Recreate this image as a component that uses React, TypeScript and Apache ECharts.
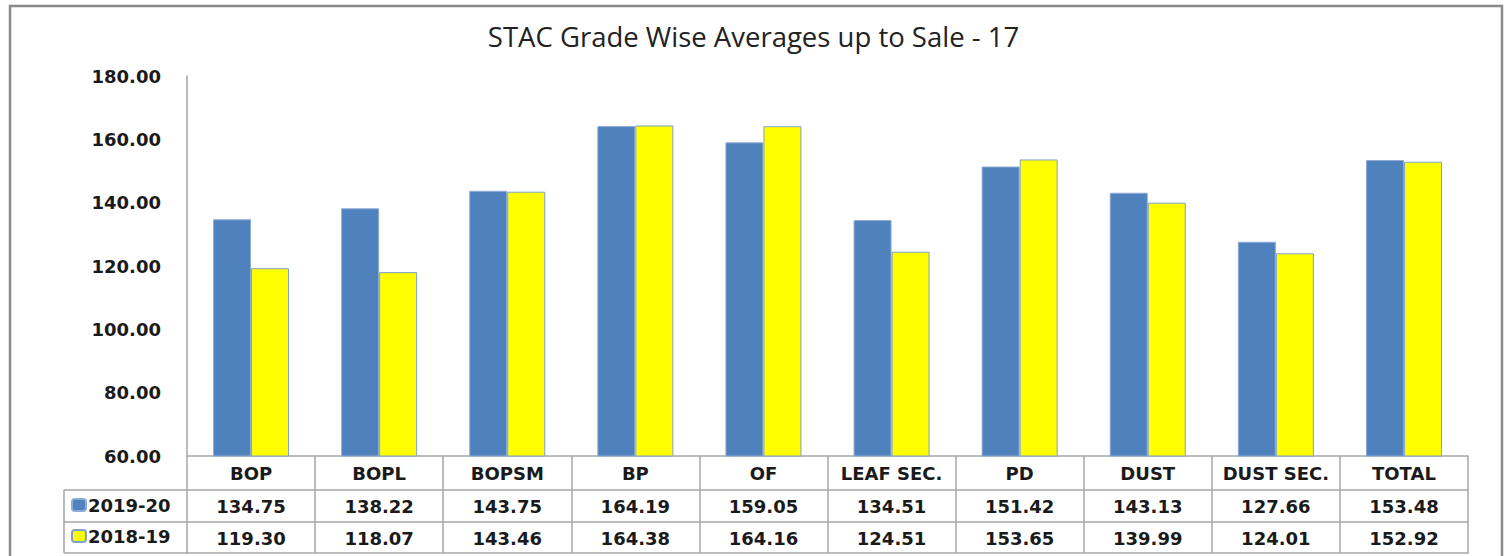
import React, { useEffect, useRef } from "react";
import * as echarts from "echarts";

const categories = ["BOP", "BOPL", "BOPSM", "BP", "OF", "LEAF SEC.", "PD", "DUST", "DUST SEC.", "TOTAL"];
const series2019 = [134.75, 138.22, 143.75, 164.19, 159.05, 134.51, 151.42, 143.13, 127.66, 153.48];
const series2018 = [119.3, 118.07, 143.46, 164.38, 164.16, 124.51, 153.65, 139.99, 124.01, 152.92];
const seriesNames = ["2019-20", "2018-19"];
const title = "STAC Grade Wise Averages up to Sale - 17";

const W = 1507;
const H = 556;
const gridLeft = 187;
const gridRight = 1468;
const gridTop = 76;
const gridBottom = 456;
const rowH = [34, 32, 31];
const tableLeft = 64;
const lineColor = "#a6a6a6";
const font = "DejaVu Sans";

export default function App() {
  const ref = useRef<HTMLDivElement>(null);
  useEffect(() => {
    if (!ref.current) return;
    const chart = echarts.init(ref.current, undefined, { renderer: "svg" });
    const y1 = gridBottom + rowH[0];
    const y2 = y1 + rowH[1];
    const y3 = y2 + rowH[2];
    const labelStyle = { fontFamily: font, fontWeight: "bold" as const, fontSize: 18, color: "#1a1a1a" };
    chart.setOption({
      animation: false,
      backgroundColor: "#fff",
      title: {
        text: title,
        left: "center",
        top: 17,
        textStyle: { fontFamily: "Open Sans", fontWeight: "normal", fontSize: 27.5, color: "#222" },
      },
      legend: {
        orient: "vertical",
        left: 66,
        top: y1 + 1,
        itemWidth: 14,
        itemHeight: 12,
        itemGap: 13,
        data: seriesNames,
        textStyle: { ...labelStyle, padding: [0, 0, 0, -3] },
      },
      grid: {
        left: gridLeft,
        right: W - gridRight,
        top: gridTop,
        bottom: H - gridBottom,
        containLabel: false,
      },
      xAxis: [
        {
          type: "category",
          data: categories,
          position: "bottom",
          axisLine: { show: true, lineStyle: { color: lineColor, width: 1.5 } },
          axisTick: { show: true, interval: 0, length: rowH[0] + rowH[1] + rowH[2], lineStyle: { color: lineColor, width: 1.5 } },
          axisLabel: { ...labelStyle, margin: 8, interval: 0 },
        },
        {
          type: "category",
          data: categories,
          position: "bottom",
          offset: rowH[0],
          axisLine: { show: true, lineStyle: { color: lineColor, width: 1.5 } },
          axisTick: { show: false },
          axisLabel: { ...labelStyle, margin: 7, interval: 0, formatter: (_: string, i: number) => series2019[i].toFixed(2) },
        },
        {
          type: "category",
          data: categories,
          position: "bottom",
          offset: rowH[0] + rowH[1],
          axisLine: { show: true, lineStyle: { color: lineColor, width: 1.5 } },
          axisTick: { show: false },
          axisLabel: { ...labelStyle, margin: 7, interval: 0, formatter: (_: string, i: number) => series2018[i].toFixed(2) },
        },
        {
          type: "category",
          data: categories,
          position: "bottom",
          offset: rowH[0] + rowH[1] + rowH[2],
          axisLine: { show: true, lineStyle: { color: lineColor, width: 1.5 } },
          axisTick: { show: false },
          axisLabel: { show: false },
        },
      ],
      yAxis: {
        type: "value",
        min: 60,
        max: 180,
        interval: 20,
        axisLine: { show: true, lineStyle: { color: lineColor, width: 1.5 } },
        axisTick: { show: false },
        splitLine: { show: false },
        axisLabel: { ...labelStyle, margin: 26, formatter: (v: number) => v.toFixed(2) },
      },
      series: [
        {
          name: seriesNames[0],
          type: "bar",
          data: series2019,
          barWidth: 38,
          barGap: "0%",
          itemStyle: { color: "#4f81bd", borderColor: "#8eaad6", borderWidth: 1 },
        },
        {
          name: seriesNames[1],
          type: "bar",
          data: series2018,
          barWidth: 38,
          barGap: "0%",
          itemStyle: { color: "#ffff00", borderColor: "#7f9fcf", borderWidth: 1 },
        },
      ],
      graphic: [
        { type: "line", shape: { x1: tableLeft, y1: y1, x2: gridLeft, y2: y1 }, style: { stroke: lineColor, lineWidth: 1.5 } },
        { type: "line", shape: { x1: tableLeft, y1: y2, x2: gridLeft, y2: y2 }, style: { stroke: lineColor, lineWidth: 1.5 } },
        { type: "line", shape: { x1: tableLeft, y1: y3, x2: gridLeft, y2: y3 }, style: { stroke: lineColor, lineWidth: 1.5 } },
        { type: "line", shape: { x1: tableLeft, y1: y1, x2: tableLeft, y2: y3 }, style: { stroke: lineColor, lineWidth: 1.5 } },
        { type: "rect", shape: { x: 10, y: 6, width: 1492, height: 600 }, style: { fill: "none", stroke: "#8a8a8a", lineWidth: 2.5 }, silent: true },
      ],
    });
    return () => chart.dispose();
  }, []);
  return <div ref={ref} style={{ position: "fixed", left: 0, top: 0, width: W, height: H }} />;
}
